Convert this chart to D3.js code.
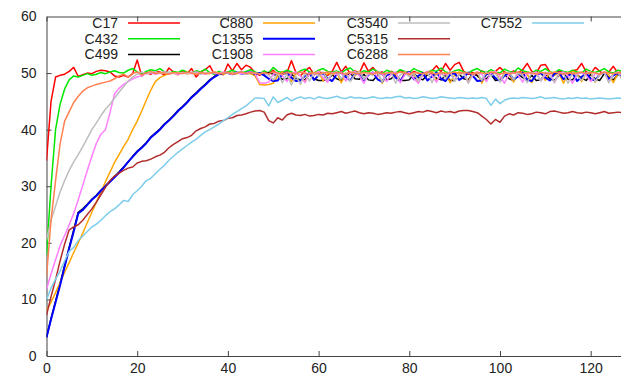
<!DOCTYPE html>
<html>
<head>
<meta charset="utf-8">
<script src="https://cdn.jsdelivr.net/npm/d3@7"></script>
<style>
html,body{margin:0;padding:0;background:#fff;overflow:hidden;}
svg{display:block;}
text{font-family:"Liberation Sans",Arial,Helvetica,sans-serif;}
</style>
</head>
<body>
<svg id="chart" width="621" height="387"></svg>
<script>
const seriesNames = ["C17","C432","C499","C880","C1355","C1908","C3540","C5315","C6288","C7552"];
const seriesColors = ["#ff0000","#00e600","#000000","#ffa500","#0000ff","#ff7fff","#bebebe","#b22c2c","#ff8050","#7dcdea"];
const xTicks = [0,20,40,60,80,100,120];
const yTicks = [0,10,20,30,40,50,60];

const C17 = [34.5,45.0,49.3,49.6,49.8,50.3,51.0,49.4,49.7,50.0,49.9,50.3,50.5,50.4,50.2,49.5,49.3,49.6,49.3,49.9,
52.3,49.5,50.1,49.8,50.3,50.2,49.6,50.9,50.2,49.7,50.4,49.9,50.8,49.3,50.2,50.6,51.3,49.8,50.1,49.7,
51.6,50.4,51.7,50.6,51.4,51.0,50.0,49.6,50.3,49.8,50.5,49.6,50.2,50.0,52.2,50.1,49.5,50.4,51.0,49.7,
50.2,50.0,49.6,50.3,51.9,50.2,51.2,49.8,50.4,50.0,51.8,50.3,51.0,49.9,50.2,49.6,50.3,49.8,50.5,50.1,
49.7,50.3,50.0,49.5,50.2,50.4,51.3,50.2,51.7,50.5,51.5,51.9,50.3,49.8,50.1,49.6,50.4,50.0,49.7,50.3,
51.0,50.2,49.8,50.4,50.0,50.6,51.7,50.3,50.0,51.4,51.5,50.2,49.8,50.3,50.1,49.7,50.4,50.6,51.7,50.2,
49.9,51.0,50.3,49.8,50.2,51.2,50.0,50.3];

const C432 = [17.8,30.0,40.0,44.5,47.2,48.8,49.5,49.3,49.6,49.9,49.6,49.8,50.1,49.9,50.2,50.4,50.1,50.0,50.5,50.8,
50.2,49.8,50.3,50.6,50.4,50.8,50.2,50.0,50.3,50.1,50.5,50.2,50.0,50.4,50.2,50.7,50.1,49.8,50.3,50.0,
50.2,50.5,50.1,50.0,50.3,50.6,50.2,49.9,50.4,50.0,51.0,50.3,50.1,50.5,50.2,49.9,50.4,50.7,50.2,50.0,
50.5,50.8,50.3,50.1,50.4,50.0,50.6,50.9,50.2,50.0,50.4,50.2,50.7,50.3,49.9,50.5,50.2,50.0,50.6,50.3,
50.1,50.8,50.4,50.1,50.0,50.5,50.3,50.9,50.2,50.0,50.4,50.6,50.2,50.0,50.5,50.8,50.3,50.1,50.6,50.2,
50.0,50.7,50.3,50.1,50.9,50.4,50.2,50.0,50.5,50.3,50.8,50.2,50.0,50.6,50.3,50.1,50.5,50.2,50.0,50.7,
50.3,50.1,50.4,50.8,50.2,50.0,50.5,50.3];

const C499 = [3.3,6.6,9.7,12.8,16.0,19.2,22.3,25.4,26.0,26.8,27.7,28.4,29.3,30.1,30.9,31.7,32.5,33.4,34.3,35.3,
36.2,36.9,37.7,38.7,39.4,40.1,41.0,41.7,42.5,43.4,44.1,44.9,45.8,46.5,47.3,48.0,48.8,49.4,49.8,50.0,
50.1,49.8,50.0,50.2,49.9,50.0,49.7,50.0,49.9,50.1,49.8,49.5,48.9,49.0,49.8,49.1,48.8,48.8,49.9,49.0,
48.7,48.7,48.8,49.7,49.0,48.7,49.6,50.0,49.0,48.9,49.8,48.8,48.7,49.6,49.9,48.8,49.0,49.8,48.7,48.7,
48.8,49.9,49.2,48.8,49.7,50.0,49.1,48.8,49.6,48.7,48.7,49.8,49.0,48.8,49.9,49.5,48.8,49.0,49.8,48.7,
48.8,49.7,49.0,48.7,49.9,49.2,48.8,49.6,48.7,48.8,49.9,49.0,48.7,49.6,50.0,48.9,48.8,49.7,49.1,48.7,
49.8,49.0,48.7,49.9,49.2,48.8,49.7,49.9];

const C880 = [8.0,9.5,11.2,13.0,14.8,16.5,18.3,20.0,21.7,23.6,25.4,27.2,29.0,30.8,32.5,34.2,35.6,37.0,38.3,40.0,
41.5,43.3,45.2,47.0,48.5,49.2,49.6,49.9,50.0,49.8,50.1,49.9,50.0,49.8,50.1,50.0,49.9,50.2,50.0,49.8,
50.1,50.0,49.9,50.1,50.0,49.9,49.5,48.0,47.9,48.0,48.2,49.5,50.2,49.8,48.5,50.0,49.6,48.4,50.1,49.9,
50.3,48.6,50.0,49.7,50.2,48.3,49.9,50.1,49.5,50.3,48.7,50.0,49.8,50.2,48.2,49.6,50.1,49.9,48.5,50.2,
50.0,49.7,48.4,50.1,49.8,50.3,48.6,49.9,50.1,48.3,49.7,50.2,50.0,48.5,49.9,50.2,48.2,49.8,50.0,50.3,
48.6,50.1,49.7,48.4,50.0,50.2,49.8,48.3,49.9,50.1,48.7,50.2,49.6,50.0,48.2,49.9,50.3,49.8,48.5,50.0,
50.2,48.4,49.9,50.1,49.7,48.3,50.0,50.2];

const C1355 = [3.3,6.5,9.5,12.5,15.8,19.0,22.0,25.2,25.8,26.7,27.6,28.3,29.2,30.0,30.8,31.6,32.4,33.3,34.3,35.2,
36.1,36.8,37.6,38.6,39.3,40.0,40.9,41.6,42.4,43.3,44.0,44.8,45.7,46.4,47.2,47.9,48.7,49.3,49.8,50.0,
50.0,49.8,50.1,49.9,50.0,50.2,49.8,50.0,49.6,49.0,48.6,48.7,49.8,50.1,49.2,48.6,48.7,49.5,50.0,48.8,
49.6,50.0,49.0,48.6,49.8,50.1,49.3,48.7,49.9,50.0,48.8,49.7,50.1,48.9,48.5,49.6,50.0,49.2,48.6,49.8,
50.2,48.9,49.5,50.0,48.7,49.4,50.1,49.0,48.6,49.7,50.0,48.8,49.3,50.1,49.5,48.6,48.7,49.8,50.0,49.1,
48.6,49.6,50.0,48.9,49.4,50.1,48.8,48.6,49.7,50.0,49.2,48.7,49.9,50.1,48.9,49.5,50.0,48.6,49.3,50.0,
49.0,48.7,49.8,50.1,48.9,49.6,50.0,49.2];

const C1908 = [11.8,14.5,17.0,19.5,21.3,23.2,25.2,27.6,30.2,32.8,35.3,37.6,39.2,40.0,43.0,46.3,47.3,48.0,48.5,49.0,
49.3,49.6,49.9,50.1,49.8,50.0,50.2,49.9,50.0,49.8,50.1,50.0,49.9,50.2,50.0,49.8,50.1,50.0,49.9,50.2,
50.0,49.8,50.1,49.9,50.0,50.2,49.9,48.3,48.2,48.4,49.8,50.1,49.6,48.5,49.9,50.2,49.5,48.3,50.0,49.8,
50.3,49.2,48.4,50.1,49.7,50.2,48.6,49.9,50.3,49.5,48.2,49.8,50.1,49.4,50.0,48.5,49.9,50.2,48.3,49.7,
50.1,49.0,48.2,49.8,50.3,49.6,48.4,50.0,49.7,50.2,48.6,49.9,50.1,48.3,49.6,50.2,49.8,48.5,50.0,50.3,
49.4,48.2,49.9,50.1,49.6,48.4,50.0,49.8,50.2,48.6,49.7,50.1,48.3,49.9,50.2,49.5,48.2,49.8,50.1,49.6,
48.5,50.0,49.7,50.2,48.4,49.9,50.1,49.6];

const C3540 = [20.5,24.0,26.5,29.0,31.0,32.8,34.3,35.6,37.0,38.5,40.0,41.2,42.5,43.6,44.5,45.6,46.6,47.6,48.6,49.3,
49.8,50.2,49.9,50.1,50.3,49.9,50.0,50.2,49.9,50.1,50.0,49.9,50.2,50.0,49.8,50.1,50.0,50.2,49.9,50.0,
50.1,49.9,50.0,50.2,49.8,50.1,50.0,49.9,50.1,49.6,48.8,50.0,48.3,49.8,47.9,49.5,48.0,50.0,48.6,50.1,
49.4,50.2,48.8,49.9,50.3,49.0,50.1,48.5,49.8,50.2,48.9,50.0,49.6,50.3,48.4,49.9,50.1,48.2,49.7,50.2,
49.3,50.0,48.6,49.8,50.2,48.3,49.9,50.1,49.0,50.3,48.5,49.7,50.0,48.2,49.8,50.1,48.7,50.2,49.5,50.0,
48.4,49.9,50.2,48.8,50.0,49.6,48.3,50.1,49.8,48.6,50.2,49.7,48.4,50.0,49.9,48.2,50.1,49.5,48.7,50.0,
50.2,48.5,49.8,50.1,48.3,49.9,50.2,48.6];

const C5315 = [7.2,10.5,13.5,16.8,19.8,22.3,22.8,23.2,24.0,25.0,26.0,27.2,28.5,29.8,31.0,31.8,32.3,32.8,33.2,33.4,
34.1,34.4,34.5,34.8,35.2,35.5,36.0,36.8,37.4,37.9,38.4,38.6,39.0,39.8,40.2,40.5,41.0,41.1,41.5,41.6,
42.0,42.1,42.5,42.6,42.8,43.1,43.3,43.4,43.1,41.6,41.2,42.1,41.7,42.6,42.9,42.6,42.5,42.7,42.4,42.5,
42.7,42.6,42.9,42.8,43.0,43.2,42.9,43.1,43.3,43.0,42.8,43.0,42.9,42.7,42.8,43.0,42.9,43.1,43.2,43.0,
42.8,43.0,43.2,43.1,43.4,43.2,43.0,43.3,43.1,43.2,43.0,43.3,43.4,43.4,43.2,43.0,42.4,41.8,41.0,41.8,
41.3,42.4,42.8,42.6,43.0,42.9,42.7,42.8,43.1,43.0,42.8,43.2,43.3,43.1,42.9,43.0,43.2,43.0,42.9,43.1,
43.0,42.8,43.0,43.2,42.9,43.0,43.1,43.0];

const C6288 = [14.0,24.0,31.0,37.5,41.5,43.2,44.8,45.9,46.8,47.4,47.7,48.0,48.2,48.4,48.6,49.0,49.5,49.8,49.3,49.9,
50.2,49.7,50.0,50.3,49.9,50.1,50.0,49.8,50.1,50.0,49.9,50.2,50.0,49.8,50.1,49.9,50.0,50.2,49.9,50.0,
50.1,49.8,50.0,50.2,49.9,50.1,50.0,49.8,50.1,49.9,50.2,50.0,49.8,50.1,50.0,49.9,50.2,50.0,49.8,50.1,
49.9,50.0,50.2,49.9,50.1,50.0,49.8,50.2,50.0,49.9,50.1,50.0,49.8,50.2,49.9,50.0,50.1,49.9,50.2,50.0,
49.8,50.1,50.0,49.9,50.2,50.0,49.8,50.1,49.9,50.0,50.2,49.9,50.1,50.0,49.8,50.1,50.0,49.9,50.2,50.0,
49.8,50.1,49.9,50.0,50.2,49.9,50.1,50.0,49.8,50.1,50.0,49.9,50.2,50.0,49.8,50.1,49.9,50.0,50.2,49.9,
50.1,50.0,49.8,50.2,50.0,49.9,50.1,50.0];

const C7552 = [9.9,12.0,13.6,15.0,16.8,18.5,19.2,20.4,21.2,22.0,22.8,23.3,24.0,24.8,25.5,26.0,26.7,27.5,27.3,28.5,
29.2,30.0,31.0,31.4,32.2,33.0,33.7,34.6,35.3,36.0,36.6,37.2,37.8,38.3,39.0,39.6,40.0,40.5,41.0,41.6,
42.1,42.7,43.2,43.7,44.2,44.9,45.6,45.6,45.5,44.2,45.8,44.8,45.2,45.7,45.1,45.5,45.8,45.5,45.7,45.4,
45.8,45.6,45.5,45.7,45.9,45.6,45.5,45.8,45.6,45.7,45.5,45.6,45.8,45.6,45.5,45.7,45.6,45.8,45.9,45.6,
45.7,45.5,45.6,45.8,45.7,45.5,45.6,45.8,45.7,45.6,45.5,45.7,45.6,45.5,45.6,45.5,45.7,45.5,44.3,45.4,
44.6,45.2,45.5,45.6,45.5,45.7,45.6,45.5,45.6,45.8,45.5,45.6,45.7,45.5,45.4,45.6,45.5,45.7,45.5,45.6,
45.4,45.5,45.6,45.5,45.4,45.5,45.6,45.5];

const seriesValues = [C17,C432,C499,C880,C1355,C1908,C3540,C5315,C6288,C7552];

const svg = d3.select("#chart");
const plotLeft = 46.5, plotTop = 16.5, plotBottom = 356, plotRight = 46.5 + 4.535*140;

const x = d3.scaleLinear().domain([0,140]).range([plotLeft, plotRight]);
const y = d3.scaleLinear().domain([0,60]).range([plotBottom, plotTop]);

const axisColor = "#444";
const fontSize = 14;

const gx = svg.append("g").attr("transform", `translate(0,${plotBottom})`)
  .call(d3.axisBottom(x).tickValues(xTicks).tickSizeInner(-5).tickSizeOuter(0).tickPadding(7));
const gy = svg.append("g").attr("transform", `translate(${plotLeft},0)`)
  .call(d3.axisLeft(y).tickValues(yTicks).tickSizeInner(-5).tickSizeOuter(0).tickPadding(10));
const gt = svg.append("g").attr("transform", `translate(0,${plotTop})`)
  .call(d3.axisTop(x).tickValues(xTicks).tickSizeInner(-5).tickSizeOuter(0).tickFormat(""));

[gx,gy,gt].forEach(g=>{
  g.selectAll("path.domain").attr("stroke", axisColor).attr("stroke-width",1);
  g.selectAll(".tick line").attr("stroke", axisColor).attr("stroke-width",1);
  g.selectAll(".tick text").attr("fill","#222").style("font-size",fontSize+"px")
    .style("font-family",'"Liberation Sans",Arial,Helvetica,sans-serif');
});
gy.selectAll(".tick").filter(d=>d===0||d===60).select("line").remove();

svg.append("defs").append("clipPath").attr("id","clip")
  .append("rect").attr("x",plotLeft).attr("y",plotTop).attr("width",plotRight-plotLeft).attr("height",plotBottom-plotTop);

const line = d3.line().x((d,i)=>x(i)).y(d=>y(d));
const plot = svg.append("g").attr("clip-path","url(#clip)");
seriesValues.forEach((vals,k)=>{
  plot.append("path").datum(vals)
    .attr("fill","none")
    .attr("stroke", seriesColors[k])
    .attr("stroke-width", k===4 ? 2 : 1.5)
    .attr("stroke-linejoin","round")
    .attr("d", line);
});

const legend = svg.append("g");
const colText = [118,253,388,522];
const rowY = [23,38.7,54.4];
seriesNames.forEach((name,k)=>{
  const c = Math.floor(k/3), r = k%3;
  legend.append("text").attr("x", colText[c]).attr("y", rowY[r]).attr("dy","0.35em")
    .attr("text-anchor","end").attr("fill","#222").style("font-size",fontSize+"px").text(name);
  legend.append("line").attr("x1", colText[c]+10).attr("x2", colText[c]+62)
    .attr("y1", rowY[r]).attr("y2", rowY[r])
    .attr("stroke", seriesColors[k]).attr("stroke-width", k===4 ? 2 : 1.5);
});
</script>
</body>
</html>
